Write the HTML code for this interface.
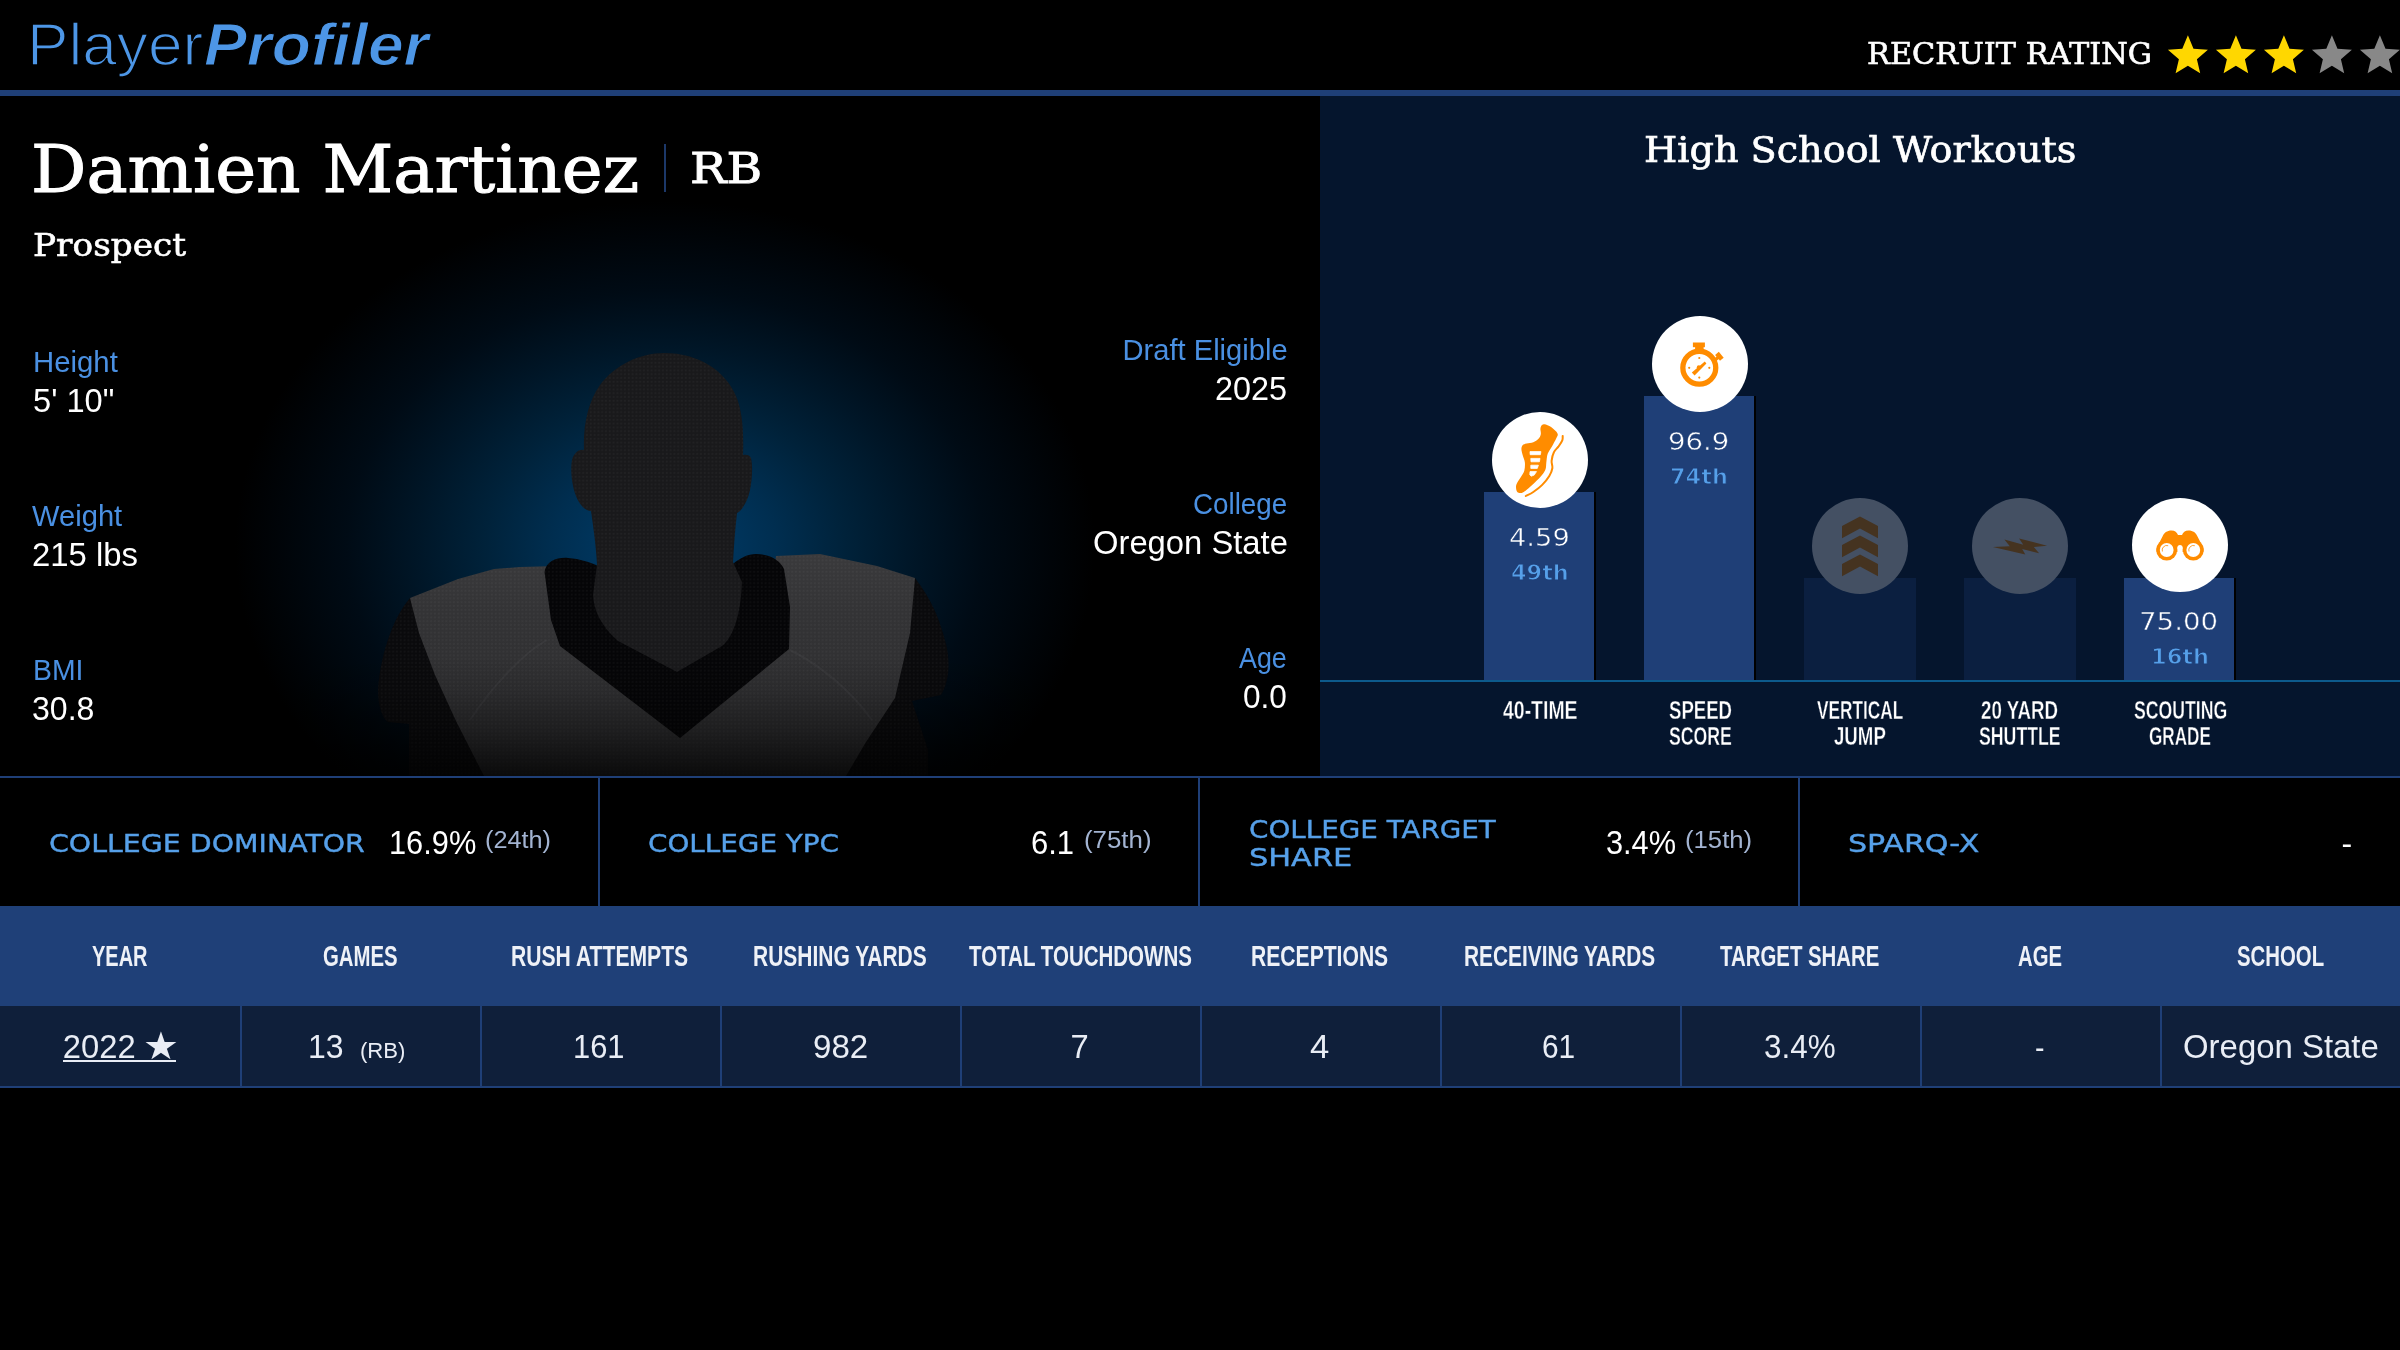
<!DOCTYPE html>
<html lang="en">
<head>
<meta charset="utf-8">
<title>Damien Martinez - PlayerProfiler</title>
<style>
html,body{margin:0;padding:0;background:#000;}
body{width:2400px;height:1350px;position:relative;overflow:hidden;font-family:"Liberation Sans",sans-serif;color:#fff;}
#page{position:absolute;left:0;top:0;width:2400px;height:1350px;overflow:hidden;will-change:transform;}
.abs{position:absolute;}
.t{position:absolute;white-space:nowrap;line-height:normal;transform-origin:0 0;color:#fff;}
.hline{position:absolute;left:0;width:2400px;background:#1f3f77;}
.vline{position:absolute;width:2px;background:#1f3f77;}
#left{left:0;top:96px;width:1320px;height:680px;background:#000;overflow:hidden;}
#glow{left:0;top:0;width:1320px;height:680px;background:radial-gradient(ellipse 430px 345px at 665px 450px,#003b67 0%,#003760 12%,#002e50 26%,#00223a 42%,#001627 58%,#000b15 74%,#000408 90%,#000 100%);}
#fade{left:0;top:560px;width:1320px;height:120px;background:linear-gradient(to bottom,rgba(0,0,0,0) 0%,rgba(0,0,0,.12) 30%,rgba(0,0,0,.38) 62%,rgba(0,0,0,.62) 85%,rgba(0,0,0,.78) 100%);}
#right{left:1320px;top:96px;width:1080px;height:680px;background:#05152d;}
.bar{position:absolute;width:110px;background:#1f3f77;border-right:2px solid #000;}
.bar.off{width:112px;background:#0b1f40;border-right:0;}
.circ{position:absolute;width:96px;height:96px;border-radius:50%;background:#fff;}
.circ.off{background:#445063;}
.circ svg{position:absolute;left:0;top:0;width:96px;height:96px;}
#stats{left:0;top:778px;width:2400px;height:128px;background:#000;}
#thead{left:0;top:906px;width:2400px;height:100px;background:#1f4078;}
#trow{left:0;top:1006px;width:2400px;height:80px;background:#0f1f3a;}

</style>
</head>
<body>
<div id="page">
<div id="header" class="abs" style="left:0;top:0;width:2400px;height:90px;background:#000"></div>
<svg class="abs" style="left:2160px;top:30px" width="240" height="50" viewBox="2160 30 240 50">
<g id="stars">
<polygon fill="#ffd700" points="2187.9,35.3 2193.5,48.7 2207.9,49.8 2196.9,59.2 2200.2,73.3 2187.9,65.8 2175.6,73.3 2178.9,59.2 2167.9,49.8 2182.3,48.7"/>
<polygon fill="#ffd700" points="2235.9,35.3 2241.5,48.7 2255.9,49.8 2244.9,59.2 2248.2,73.3 2235.9,65.8 2223.6,73.3 2226.9,59.2 2215.9,49.8 2230.3,48.7"/>
<polygon fill="#ffd700" points="2283.9,35.3 2289.5,48.7 2303.9,49.8 2292.9,59.2 2296.2,73.3 2283.9,65.8 2271.6,73.3 2274.9,59.2 2263.9,49.8 2278.3,48.7"/>
<polygon fill="#888888" points="2331.9,35.3 2337.5,48.7 2351.9,49.8 2340.9,59.2 2344.2,73.3 2331.9,65.8 2319.6,73.3 2322.9,59.2 2311.9,49.8 2326.3,48.7"/>
<polygon fill="#888888" points="2379.9,35.3 2385.5,48.7 2399.9,49.8 2388.9,59.2 2392.2,73.3 2379.9,65.8 2367.6,73.3 2370.9,59.2 2359.9,49.8 2374.3,48.7"/>
</g>
</svg>
<div class="hline" style="top:90px;height:6px"></div>

<div id="left" class="abs">
<div id="glow" class="abs"></div>
<svg class="abs" style="left:0;top:0" width="1320" height="680" viewBox="0 96 1320 680">
<defs>
<pattern id="dots" width="3.8" height="3.8" patternUnits="userSpaceOnUse"><rect x="0.9" y="0.9" width="1.7" height="1.7" fill="#fff" fill-opacity="0.04"/></pattern>
<linearGradient id="jg" x1="0" y1="554" x2="0" y2="700" gradientUnits="userSpaceOnUse"><stop offset="0" stop-color="#3a3a3c"/><stop offset="0.4" stop-color="#333335"/><stop offset="1" stop-color="#2f2f31"/></linearGradient>
<clipPath id="sil"><use href="#p-arms"/><use href="#p-jersey"/><use href="#p-collar"/><use href="#p-head"/></clipPath>
<path id="p-arms" d="M410,598 C395,615 381,650 378,690 C378,705 382,718 388,722 L409,724 L409,776 L928,776 L928,750 L912,701 L941,695 C950,680 950,660 946,644 C940,620 932,600 915,578 Z"/>
<path id="p-jersey" d="M556,566 L520,567 L494,569 L458,579 L410,598 L419,633 L435,675 L456,721 L484,776 L846,776 L866,742 L895,698 L910,633 L915,578 L877,566 L820,554 L776,556 L770,600 L680,700 L570,600 Z"/>
<path id="p-collar" d="M544.5,572 C546,561 558,557 568,558 C580,559 590,562 598,566 L733,564 C740,558 748,554 756,554 C770,554 780,560 784,569 L790,607 L789,649 L680,738 L560,646 L551,620 Z"/>
<path id="p-head" d="M664,353 C640,353 615,365 600,385 C588,402 583,425 584,450 C580,449 574,452 572,460 C570,470 572,486 576,496 C580,506 586,511 591,511 C593,525 596,545 597,564 L593,595 C594,610 600,625 618,641 L677,672 L722,646 C735,636 741,610 742,582 L733,562 C734,545 735,530 737,513 C742,511 748,500 750,490 C752,480 753,466 751,458 C750,455 746,454 743,455 C744,430 742,410 736,396 C726,372 700,353 664,353 Z"/>
</defs>
<use href="#p-arms" fill="#0a0a0c"/>
<use href="#p-jersey" fill="url(#jg)"/>
<path d="M547,640 C520,655 490,690 470,720 M790,650 C820,665 850,690 872,720" fill="none" stroke="#4a4a4c" stroke-opacity="0.3" stroke-width="2"/>
<use href="#p-collar" fill="#050507"/>
<use href="#p-head" fill="#19191b"/>
<rect x="370" y="350" width="590" height="426" fill="url(#dots)" clip-path="url(#sil)"/>
</svg>
<div id="fade" class="abs"></div>
</div>

<div id="right" class="abs"></div>
<!-- bars -->
<div class="bar" style="left:1484px;top:492px;height:188px"></div>
<div class="bar" style="left:1644px;top:396px;height:284px"></div>
<div class="bar off" style="left:1804px;top:578px;height:102px"></div>
<div class="bar off" style="left:1964px;top:578px;height:102px"></div>
<div class="bar" style="left:2124px;top:578px;height:102px"></div>
<div class="abs" style="left:1320px;top:680px;width:1080px;height:2px;background:#0d5a8c"></div>
<!-- circles -->
<div class="circ" style="left:1492px;top:412px"><svg viewBox="0 0 96 96"><path fill="#ff8c00" d="M49.3,13.8 C50.0,13.0 50.8,12.0 52.4,12.3 C54.1,12.5 56.9,13.6 59.1,15.1 C61.3,16.7 64.7,19.7 65.5,21.5 C66.4,23.4 65.2,24.0 64.3,26.2 C63.3,28.4 61.2,32.1 59.8,34.7 C58.4,37.3 56.7,39.1 55.7,41.8 C54.8,44.4 54.7,48.1 54.3,50.7 C54.0,53.2 54.3,54.9 53.6,56.9 C52.9,58.9 52.0,60.4 50.2,62.7 C48.5,64.9 45.7,67.7 43.1,70.2 C40.5,72.7 36.9,76.0 34.7,77.8 C32.4,79.6 31.3,80.5 29.8,80.9 C28.2,81.3 26.3,81.0 25.3,80.0 C24.4,79.0 24.0,76.7 24.0,75.1 C24.0,73.6 24.3,72.4 25.2,70.7 C26.0,69.0 27.7,66.9 28.9,64.9 C30.1,62.9 31.6,61.0 32.3,58.7 C32.9,56.3 33.1,53.2 32.9,50.7 C32.7,48.1 31.4,45.9 30.8,43.6 C30.3,41.3 29.4,38.7 29.4,36.9 C29.4,35.1 30.0,33.8 30.8,32.9 C31.7,32.0 32.9,32.0 34.7,31.6 C36.4,31.1 39.4,31.0 41.3,30.2 C43.3,29.4 45.2,28.2 46.5,26.8 C47.7,25.5 48.5,23.9 48.8,22.2 C49.1,20.6 48.4,18.5 48.4,17.1 C48.5,15.7 48.7,14.6 49.3,13.8 Z"/><path fill="#fff" stroke="#fff" stroke-width="0.8" stroke-linejoin="round" d="M38.0,39.6 L48.9,39.6 L48.4,42.7 L38.2,42.7 Z"/><path fill="#fff" stroke="#fff" stroke-width="0.8" stroke-linejoin="round" d="M38.8,46.4 L48.0,46.4 L47.4,49.8 L39.0,49.8 Z"/><path fill="#fff" stroke="#fff" stroke-width="0.8" stroke-linejoin="round" d="M38.8,53.2 L46.4,53.2 L45.3,56.4 L38.8,56.4 Z"/><path fill="#fff" stroke="#fff" stroke-width="0.8" stroke-linejoin="round" d="M38.0,59.6 L44.5,59.6 L42.2,63.1 L39.1,64.2 L37.8,62.7 Z"/><path fill="none" stroke="#ff8c00" stroke-width="2" stroke-linecap="round" d="M70.7,24.0 C70.6,24.7 71.0,26.7 70.3,28.4 C69.6,30.2 67.8,32.7 66.4,34.7 C65.0,36.6 63.1,37.6 62.0,40.0 C60.8,42.4 59.9,46.2 59.6,48.9 C59.4,51.6 60.7,53.5 60.4,56.0 C60.0,58.5 59.0,61.2 57.3,64.0 C55.6,66.8 52.9,70.2 50.2,72.9 C47.6,75.6 44.1,78.1 41.3,80.0 C38.6,81.9 35.0,83.3 33.8,84.0"/></svg></div>
<div class="circ" style="left:1652px;top:316px"><svg viewBox="0 0 96 96"><circle cx="47.3" cy="51.7" r="16.45" fill="none" stroke="#ff8c00" stroke-width="5.3"/>
<rect x="40.9" y="26.5" width="12" height="4.7" fill="#ff8c00"/><rect x="43.1" y="30.5" width="8.5" height="5" fill="#ff8c00"/>
<g transform="rotate(50 66.7 40.9)"><rect x="62.9" y="37.6" width="7.6" height="4.8" fill="#ff8c00"/><rect x="65" y="41" width="3.4" height="5" fill="#ff8c00"/></g>
<path fill="#ff8c00" d="M39.8,56.4 L52.8,45.6 L54.4,47.4 L42.6,59.4 Z"/><circle cx="46.8" cy="51.3" r="2" fill="#ff8c00"/>
<circle cx="47.3" cy="42" r="1.1" fill="#ff8c00"/><circle cx="37.2" cy="51.8" r="1.1" fill="#ff8c00"/><circle cx="57.3" cy="51.8" r="1.1" fill="#ff8c00"/><circle cx="47.3" cy="61.6" r="1.1" fill="#ff8c00"/></svg></div>
<div class="circ off" style="left:1812px;top:498px"><svg viewBox="0 0 96 96"><polygon fill="#453320" points="30,28 48,18.5 66,28 66,40.3 48,30.4 30,40.3"/><polygon fill="#453320" points="30,47 48,37.5 66,47 66,59.3 48,49.4 30,59.3"/><polygon fill="#453320" points="30,66 48,56.5 66,66 66,78.3 48,68.4 30,78.3"/></svg></div>
<div class="circ off" style="left:1972px;top:498px"><svg viewBox="0 0 96 96"><polygon fill="#453320" points="20.9,48.9 37.8,48.2 32.4,41.6 51.3,46.7 47.1,40.4 75.1,47.8 61.8,48.9 67.1,55.3 50.2,51.1 53.3,56.4"/></svg></div>
<div class="circ" style="left:2132px;top:498px;height:94px"><svg viewBox="0 0 96 96">
<path fill="#ff8c00" d="M24.6,50 L30.5,38.5 C32,34.5 35,32.4 39.5,32.4 C43,32.4 45,34.5 46,37 L50,37 C51,34.5 53,32.4 56.5,32.4 C61,32.4 64,34.5 65.5,38.5 L71.4,50 L71.4,54 L24.6,54 Z"/>
<circle cx="34.7" cy="52" r="10.5" fill="#ff8c00"/><circle cx="61.3" cy="52" r="10.5" fill="#ff8c00"/>
<circle cx="48" cy="49.5" r="2.6" fill="#fff"/><rect x="45.4" y="49.5" width="5.2" height="14" fill="#fff"/>
<circle cx="34.7" cy="52" r="6.9" fill="#fff"/><circle cx="61.3" cy="52" r="6.9" fill="#fff"/>
<path fill="none" stroke="#ff8c00" stroke-width="0.8" d="M30.4,53.5 A4.6,4.6 0 0 1 36.2,47.7"/><path fill="none" stroke="#ff8c00" stroke-width="0.8" d="M57,53.5 A4.6,4.6 0 0 1 62.8,47.7"/>
</svg></div>

<div class="vline" style="left:664px;top:144px;height:48px;background:#1c3869"></div>

<div class="hline" style="top:776px;height:2px"></div>
<div id="stats" class="abs"></div>
<div class="vline" style="left:598px;top:778px;height:128px"></div>
<div class="vline" style="left:1198px;top:778px;height:128px"></div>
<div class="vline" style="left:1798px;top:778px;height:128px"></div>
<div id="thead" class="abs"></div>
<div id="trow" class="abs"></div>
<div class="hline" style="top:1086px;height:2px"></div>
<div class="vline" style="left:240px;top:1006px;height:80px"></div>
<div class="vline" style="left:480px;top:1006px;height:80px"></div>
<div class="vline" style="left:720px;top:1006px;height:80px"></div>
<div class="vline" style="left:960px;top:1006px;height:80px"></div>
<div class="vline" style="left:1200px;top:1006px;height:80px"></div>
<div class="vline" style="left:1440px;top:1006px;height:80px"></div>
<div class="vline" style="left:1680px;top:1006px;height:80px"></div>
<div class="vline" style="left:1920px;top:1006px;height:80px"></div>
<div class="vline" style="left:2160px;top:1006px;height:80px"></div>

<div class="abs" style="left:63px;top:1060px;width:113px;height:2px;background:#e9edf5"></div>
<span class="t" style="left:26.7px;top:10.0px;font-family:'Liberation Sans',sans-serif;font-size:59.42px;color:#4d96e6;transform:scaleX(1.0466);-webkit-text-stroke:1.6px #000;">Player</span>
<span class="t" style="left:203.8px;top:11.0px;font-family:'Liberation Sans',sans-serif;font-size:58.7px;font-weight:700;font-style:italic;color:#4d96e6;transform:scaleX(1.0927);-webkit-text-stroke:1.2px #000;">Profiler</span>
<span class="t" style="left:1866.5px;top:35.9px;font-family:'DejaVu Serif',serif;font-size:29.77px;transform:scaleX(1.0209);-webkit-text-stroke:0.6px #fff;">RECRUIT RATING</span>
<span class="t" style="left:31.4px;top:131.1px;font-family:'DejaVu Serif',serif;font-size:65.43px;transform:scaleX(1.0559);-webkit-text-stroke:1.1px #fff;">Damien Martinez</span>
<span class="t" style="left:690.4px;top:144.4px;font-family:'DejaVu Serif',serif;font-size:42.39px;transform:scaleX(1.1458);-webkit-text-stroke:0.9px #fff;">RB</span>
<span class="t" style="left:32.5px;top:226.5px;font-family:'DejaVu Serif',serif;font-size:31.14px;transform:scaleX(1.1022);-webkit-text-stroke:0.6px #fff;">Prospect</span>
<span class="t" style="left:32.5px;top:345.8px;font-family:'Liberation Sans',sans-serif;font-size:28.99px;color:#4a90e2;transform:scaleX(1.0122);">Height</span>
<span class="t" style="left:32.8px;top:381.8px;font-family:'Liberation Sans',sans-serif;font-size:32.75px;transform:scaleX(0.9963);">5' 10"</span>
<span class="t" style="left:32.2px;top:499.7px;font-family:'Liberation Sans',sans-serif;font-size:28.84px;color:#4a90e2;transform:scaleX(1.0112);">Weight</span>
<span class="t" style="left:32.0px;top:536.0px;font-family:'Liberation Sans',sans-serif;font-size:32.61px;transform:scaleX(1.0078);">215 lbs</span>
<span class="t" style="left:32.5px;top:653.8px;font-family:'Liberation Sans',sans-serif;font-size:28.7px;color:#4a90e2;transform:scaleX(0.9894);">BMI</span>
<span class="t" style="left:32.2px;top:690.0px;font-family:'Liberation Sans',sans-serif;font-size:33.33px;transform:scaleX(0.9619);">30.8</span>
<span class="t" style="left:1122.5px;top:333.6px;font-family:'Liberation Sans',sans-serif;font-size:29.13px;color:#4a90e2;transform:scaleX(1.0000);">Draft Eligible</span>
<span class="t" style="left:1215.0px;top:370.0px;font-family:'Liberation Sans',sans-serif;font-size:33.33px;transform:scaleX(0.9722);">2025</span>
<span class="t" style="left:1193.0px;top:487.8px;font-family:'Liberation Sans',sans-serif;font-size:29.13px;color:#4a90e2;transform:scaleX(0.9536);">College</span>
<span class="t" style="left:1092.8px;top:524.0px;font-family:'Liberation Sans',sans-serif;font-size:33.33px;transform:scaleX(0.9832);">Oregon State</span>
<span class="t" style="left:1239.3px;top:641.9px;font-family:'Liberation Sans',sans-serif;font-size:28.99px;color:#4a90e2;transform:scaleX(0.9255);">Age</span>
<span class="t" style="left:1243.4px;top:677.9px;font-family:'Liberation Sans',sans-serif;font-size:33.19px;transform:scaleX(0.9523);">0.0</span>
<span class="t" style="left:1643.9px;top:128.0px;font-family:'DejaVu Serif',serif;font-size:36.21px;transform:scaleX(1.0539);-webkit-text-stroke:0.7px #fff;">High School Workouts</span>
<span class="t" style="left:1508.6px;top:521.9px;font-family:'DejaVu Sans',sans-serif;font-size:25.38px;transform:scaleX(1.0759);-webkit-text-stroke:0.5px #1f3f77;">4.59</span>
<span class="t" style="left:1510.9px;top:560.0px;font-family:'DejaVu Sans',sans-serif;font-size:21.4px;font-weight:700;color:#56a0e9;transform:scaleX(1.0462);-webkit-text-stroke:1px #1f3f77;">49th</span>
<span class="t" style="left:1668.1px;top:426.4px;font-family:'DejaVu Sans',sans-serif;font-size:25.38px;transform:scaleX(1.0849);-webkit-text-stroke:0.5px #1f3f77;">96.9</span>
<span class="t" style="left:1670.1px;top:464.1px;font-family:'DejaVu Sans',sans-serif;font-size:21.54px;font-weight:700;color:#56a0e9;transform:scaleX(1.0404);-webkit-text-stroke:1px #1f3f77;">74th</span>
<span class="t" style="left:2139.3px;top:606.6px;font-family:'DejaVu Sans',sans-serif;font-size:25.24px;transform:scaleX(1.0942);-webkit-text-stroke:0.5px #1f3f77;">75.00</span>
<span class="t" style="left:2150.6px;top:644.8px;font-family:'DejaVu Sans',sans-serif;font-size:20.85px;font-weight:700;color:#56a0e9;transform:scaleX(1.0796);-webkit-text-stroke:1px #1f3f77;">16th</span>
<span class="t" style="left:1503.0px;top:695.6px;font-family:'Liberation Sans',sans-serif;font-size:25.51px;font-weight:700;transform:scaleX(0.7629);-webkit-text-stroke:0.4px #06152e;">40-TIME</span>
<span class="t" style="left:1668.7px;top:695.6px;font-family:'Liberation Sans',sans-serif;font-size:25.51px;font-weight:700;transform:scaleX(0.7286);-webkit-text-stroke:0.4px #06152e;">SPEED</span>
<span class="t" style="left:1668.7px;top:721.6px;font-family:'Liberation Sans',sans-serif;font-size:25.51px;font-weight:700;transform:scaleX(0.6921);-webkit-text-stroke:0.4px #06152e;">SCORE</span>
<span class="t" style="left:1817.0px;top:695.6px;font-family:'Liberation Sans',sans-serif;font-size:25.51px;font-weight:700;transform:scaleX(0.6772);-webkit-text-stroke:0.4px #06152e;">VERTICAL</span>
<span class="t" style="left:1834.4px;top:721.6px;font-family:'Liberation Sans',sans-serif;font-size:25.51px;font-weight:700;transform:scaleX(0.7314);-webkit-text-stroke:0.4px #06152e;">JUMP</span>
<span class="t" style="left:1981.2px;top:695.6px;font-family:'Liberation Sans',sans-serif;font-size:25.51px;font-weight:700;transform:scaleX(0.7330);-webkit-text-stroke:0.4px #06152e;">20 YARD</span>
<span class="t" style="left:1979.4px;top:721.6px;font-family:'Liberation Sans',sans-serif;font-size:25.51px;font-weight:700;transform:scaleX(0.6948);-webkit-text-stroke:0.4px #06152e;">SHUTTLE</span>
<span class="t" style="left:2133.6px;top:695.6px;font-family:'Liberation Sans',sans-serif;font-size:25.51px;font-weight:700;transform:scaleX(0.6924);-webkit-text-stroke:0.4px #06152e;">SCOUTING</span>
<span class="t" style="left:2149.2px;top:721.6px;font-family:'Liberation Sans',sans-serif;font-size:25.51px;font-weight:700;transform:scaleX(0.6711);-webkit-text-stroke:0.4px #06152e;">GRADE</span>
<span class="t" style="left:48.6px;top:829.0px;font-family:'DejaVu Sans',sans-serif;font-size:25.1px;color:#56a0e9;transform:scaleX(1.1320);-webkit-text-stroke:0.4px currentColor;">COLLEGE DOMINATOR</span>
<span class="t" style="left:648.4px;top:829.0px;font-family:'DejaVu Sans',sans-serif;font-size:25.1px;color:#56a0e9;transform:scaleX(1.1082);-webkit-text-stroke:0.4px currentColor;">COLLEGE YPC</span>
<span class="t" style="left:1248.6px;top:815.0px;font-family:'DejaVu Sans',sans-serif;font-size:25.1px;color:#56a0e9;transform:scaleX(1.1067);-webkit-text-stroke:0.4px currentColor;">COLLEGE TARGET</span>
<span class="t" style="left:1248.5px;top:842.8px;font-family:'DejaVu Sans',sans-serif;font-size:24.83px;color:#56a0e9;transform:scaleX(1.2232);-webkit-text-stroke:0.4px currentColor;">SHARE</span>
<span class="t" style="left:1848.3px;top:829.0px;font-family:'DejaVu Sans',sans-serif;font-size:25.1px;color:#56a0e9;transform:scaleX(1.1991);-webkit-text-stroke:0.4px currentColor;">SPARQ-X</span>
<span class="t" style="left:388.7px;top:824.0px;font-family:'Liberation Sans',sans-serif;font-size:33.33px;transform:scaleX(0.9239);">16.9%</span>
<span class="t" style="left:484.9px;top:827.0px;font-family:'Liberation Sans',sans-serif;font-size:23.48px;color:#a3b4d2;transform:scaleX(1.0763);">(24th)</span>
<span class="t" style="left:1031.1px;top:824.0px;font-family:'Liberation Sans',sans-serif;font-size:33.33px;transform:scaleX(0.9302);">6.1</span>
<span class="t" style="left:1083.9px;top:827.0px;font-family:'Liberation Sans',sans-serif;font-size:23.48px;color:#a3b4d2;transform:scaleX(1.1017);">(75th)</span>
<span class="t" style="left:1606.3px;top:824.0px;font-family:'Liberation Sans',sans-serif;font-size:33.33px;transform:scaleX(0.9216);">3.4%</span>
<span class="t" style="left:1684.5px;top:827.0px;font-family:'Liberation Sans',sans-serif;font-size:23.48px;color:#a3b4d2;transform:scaleX(1.0949);">(15th)</span>
<span class="t" style="left:2341.5px;top:825.0px;font-family:'Liberation Sans',sans-serif;font-size:32px;transform:scaleX(1.0000);">-</span>
<span class="t" style="left:92.3px;top:940.2px;font-family:'Liberation Sans',sans-serif;font-size:29.13px;font-weight:700;color:#eef1f7;transform:scaleX(0.6861);">YEAR</span>
<span class="t" style="left:322.8px;top:940.2px;font-family:'Liberation Sans',sans-serif;font-size:29.13px;font-weight:700;color:#eef1f7;transform:scaleX(0.6990);">GAMES</span>
<span class="t" style="left:510.9px;top:940.2px;font-family:'Liberation Sans',sans-serif;font-size:29.13px;font-weight:700;color:#eef1f7;transform:scaleX(0.7252);">RUSH ATTEMPTS</span>
<span class="t" style="left:752.6px;top:940.2px;font-family:'Liberation Sans',sans-serif;font-size:29.13px;font-weight:700;color:#eef1f7;transform:scaleX(0.7206);">RUSHING YARDS</span>
<span class="t" style="left:968.5px;top:940.2px;font-family:'Liberation Sans',sans-serif;font-size:29.13px;font-weight:700;color:#eef1f7;transform:scaleX(0.7041);">TOTAL TOUCHDOWNS</span>
<span class="t" style="left:1250.6px;top:940.2px;font-family:'Liberation Sans',sans-serif;font-size:29.13px;font-weight:700;color:#eef1f7;transform:scaleX(0.7246);">RECEPTIONS</span>
<span class="t" style="left:1463.6px;top:940.2px;font-family:'Liberation Sans',sans-serif;font-size:29.13px;font-weight:700;color:#eef1f7;transform:scaleX(0.7159);">RECEIVING YARDS</span>
<span class="t" style="left:1720.0px;top:940.2px;font-family:'Liberation Sans',sans-serif;font-size:29.13px;font-weight:700;color:#eef1f7;transform:scaleX(0.7004);">TARGET SHARE</span>
<span class="t" style="left:2017.8px;top:940.2px;font-family:'Liberation Sans',sans-serif;font-size:29.13px;font-weight:700;color:#eef1f7;transform:scaleX(0.6967);">AGE</span>
<span class="t" style="left:2236.8px;top:940.2px;font-family:'Liberation Sans',sans-serif;font-size:29.13px;font-weight:700;color:#eef1f7;transform:scaleX(0.6992);">SCHOOL</span>
<span class="t" style="left:62.8px;top:1027.8px;font-family:'Liberation Sans',sans-serif;font-size:32.75px;color:#e9edf5;transform:scaleX(1.0000);">2022</span>
<span class="t" style="left:142.6px;top:1024.2px;font-family:'DejaVu Sans',sans-serif;font-size:38px;color:#e9edf5;transform:scaleX(1.0536);">&#9733;</span>
<span class="t" style="left:308.2px;top:1027.8px;font-family:'Liberation Sans',sans-serif;font-size:32.75px;color:#e9edf5;transform:scaleX(0.9758);">13</span>
<span class="t" style="left:359.8px;top:1036.8px;font-family:'Liberation Sans',sans-serif;font-size:22.9px;color:#e9edf5;transform:scaleX(0.9667);">(RB)</span>
<span class="t" style="left:572.9px;top:1027.8px;font-family:'Liberation Sans',sans-serif;font-size:32.75px;color:#e9edf5;transform:scaleX(0.9431);">161</span>
<span class="t" style="left:813.0px;top:1027.8px;font-family:'Liberation Sans',sans-serif;font-size:32.75px;color:#e9edf5;transform:scaleX(1.0096);">982</span>
<span class="t" style="left:1070.5px;top:1027.8px;font-family:'Liberation Sans',sans-serif;font-size:32.75px;color:#e9edf5;transform:scaleX(1.0000);">7</span>
<span class="t" style="left:1309.9px;top:1027.8px;font-family:'Liberation Sans',sans-serif;font-size:32.75px;color:#e9edf5;transform:scaleX(1.0588);">4</span>
<span class="t" style="left:1542.1px;top:1027.8px;font-family:'Liberation Sans',sans-serif;font-size:32.75px;color:#e9edf5;transform:scaleX(0.9118);">61</span>
<span class="t" style="left:1764.0px;top:1027.8px;font-family:'Liberation Sans',sans-serif;font-size:32.75px;color:#e9edf5;transform:scaleX(0.9589);">3.4%</span>
<span class="t" style="left:2035.1px;top:1028.8px;font-family:'Liberation Sans',sans-serif;font-size:32px;color:#e9edf5;transform:scaleX(0.8889);">-</span>
<span class="t" style="left:2182.5px;top:1027.8px;font-family:'Liberation Sans',sans-serif;font-size:32.75px;color:#e9edf5;transform:scaleX(1.0052);">Oregon State</span>
</div>

</body>
</html>
